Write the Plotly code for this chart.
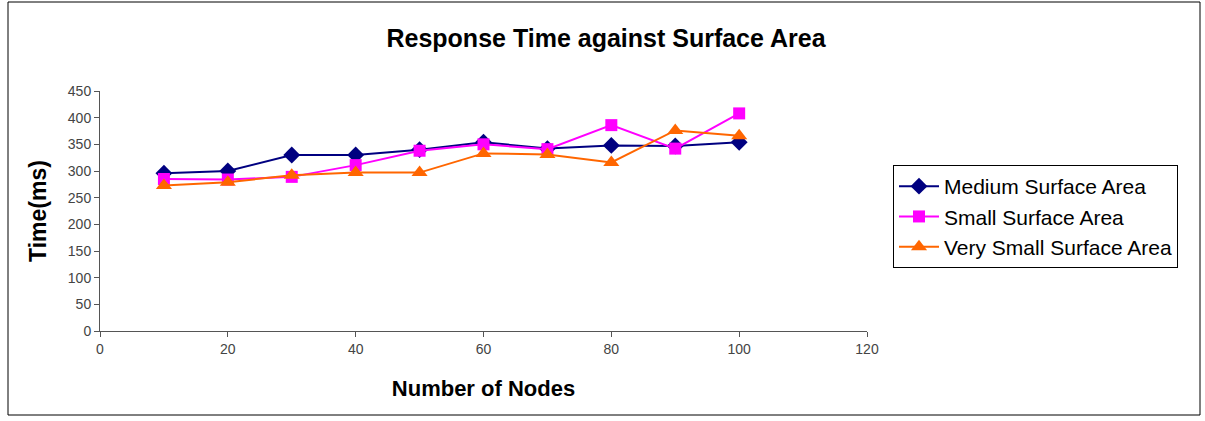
import plotly.graph_objects as go

nodes = [10, 20, 30, 40, 50, 60, 70, 80, 90, 100]
medium = [296, 300, 330, 330, 340, 354, 342, 348, 347, 354]
small = [285, 284, 289, 311, 338, 350, 341, 386, 342, 408]
very_small = [273, 279, 292, 297, 297, 333, 331, 316, 376, 366]

W, H = 1205, 421
L, R, T, B = 100, 338, 91, 90
pw, ph = W - L - R, H - T - B

def px(x):
    return (x - L) / pw

def py(y):
    return (H - B - y) / ph

FONT = "Liberation Sans, Arial, sans-serif"

fig = go.Figure()
fig.add_trace(go.Scatter(x=nodes, y=medium, name="Medium Surface Area", mode="lines+markers",
                         line=dict(color="#000080", width=2),
                         marker=dict(symbol="diamond", size=13, color="#000080")))
fig.add_trace(go.Scatter(x=nodes, y=small, name="Small Surface Area", mode="lines+markers",
                         line=dict(color="#FF00FF", width=2),
                         marker=dict(symbol="square", size=12, color="#FF00FF")))
fig.add_trace(go.Scatter(x=nodes, y=very_small, name="Very Small Surface Area", mode="lines+markers",
                         line=dict(color="#FF6600", width=2),
                         marker=dict(symbol="triangle-up", size=14, color="#FF6600")))

fig.update_layout(
    width=W, height=H,
    margin=dict(l=L, r=R, t=T, b=B),
    paper_bgcolor="white", plot_bgcolor="white",
    font=dict(family=FONT, color="black"),
    title=dict(text="<b>Response Time against Surface Area</b>", x=606 / W, xanchor="center",
               y=1 - 38 / H, yanchor="middle", font=dict(size=25, family=FONT)),
    xaxis=dict(range=[0, 120], dtick=20, tick0=0, showgrid=False, zeroline=False,
               showline=True, linecolor="#555555", linewidth=1,
               ticks="outside", ticklen=5, tickcolor="#555555",
               tickfont=dict(size=14, color="#444444"),
               title=dict(text="<b>Number of Nodes</b>", font=dict(size=22), standoff=24)),
    yaxis=dict(range=[0, 450], dtick=50, tick0=0, showgrid=False, zeroline=False,
               showline=True, linecolor="#555555", linewidth=1,
               ticks="outside", ticklen=5, tickcolor="#555555",
               tickfont=dict(size=14, color="#444444"),
               title=dict(text="<b>Time(ms)</b>", font=dict(size=23), standoff=14)),
    legend=dict(x=px(893), y=py(165), xanchor="left", yanchor="top",
                bordercolor="black", borderwidth=1, bgcolor="white",
                font=dict(size=21, family=FONT), itemwidth=40, tracegroupgap=0),
    showlegend=True,
)

fig.add_shape(type="rect", xref="paper", yref="paper",
              x0=px(8), x1=px(1200), y0=py(415), y1=py(2),
              line=dict(color="black", width=1), fillcolor="rgba(0,0,0,0)", layer="below")

fig.write_html("out.html", config={"displayModeBar": False},
               post_script="document.body.style.margin='0';document.body.style.overflow='hidden';")
